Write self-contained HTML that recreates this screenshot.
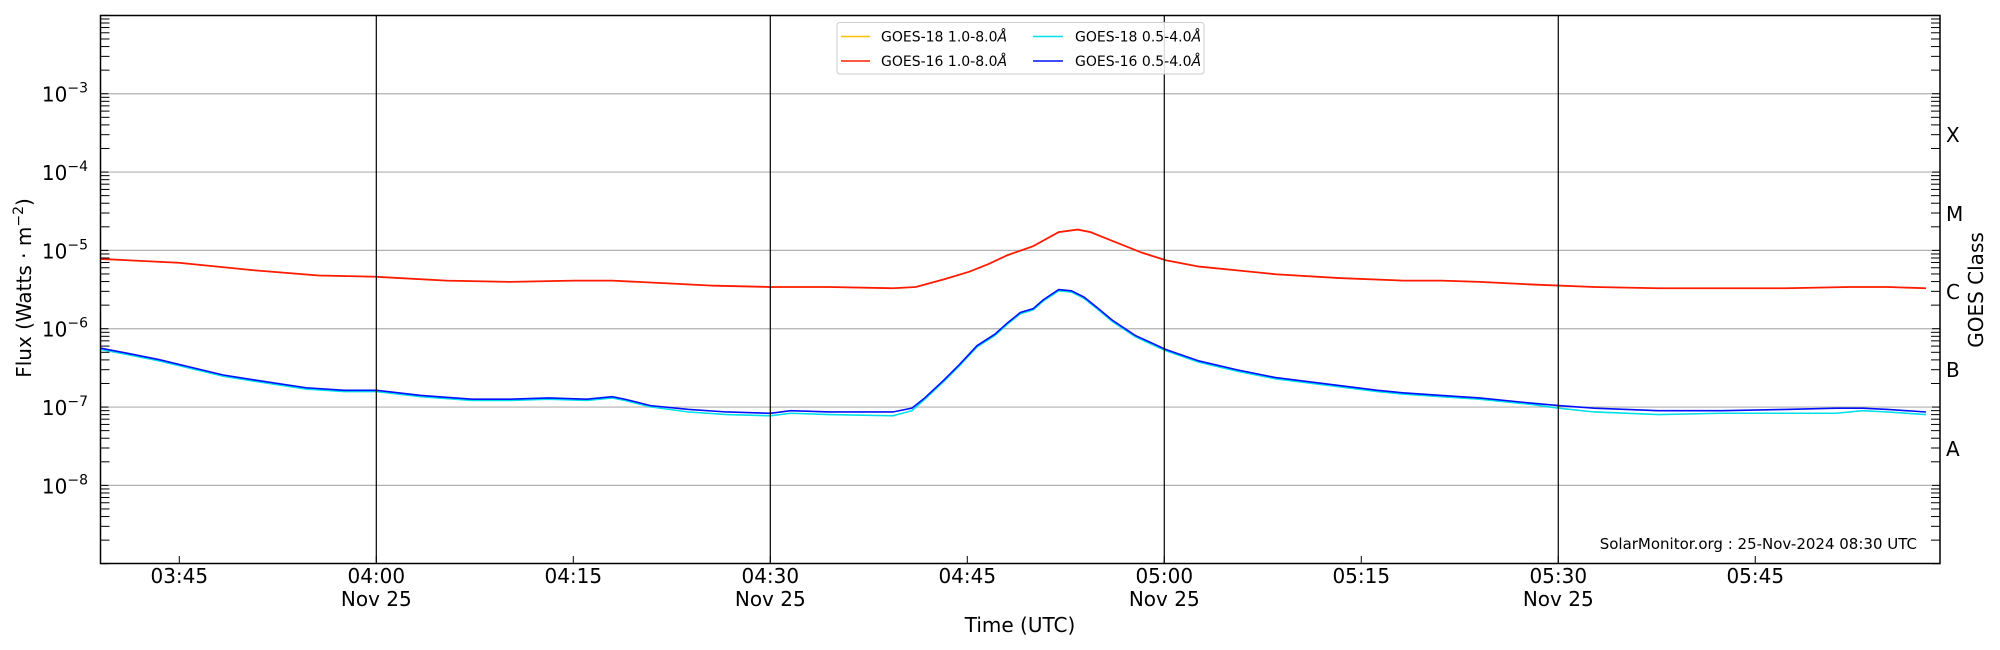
<!DOCTYPE html>
<html><head><meta charset="utf-8"><style>
html,body{margin:0;padding:0;background:#fff;}
svg{display:block;font-family:"DejaVu Sans","Liberation Sans",sans-serif;}
</style></head><body>
<svg id="s" width="2000" height="650" xmlns="http://www.w3.org/2000/svg">
<rect width="2000" height="650" fill="#fff"/>
<g id="grid"></g>
<g id="data" transform="scale(1.2755)">
<polyline fill="none" stroke="#ffc000" stroke-width="1.2" vector-effect="non-scaling-stroke" points="79,203 140,206 200,212 250,216 295,217 350,220 400,221 450,220 480,220 520,222 560,224 604,225 650,225 700,226 718,225 740,219 760,213 775,207 790,200 810,193 830,182 845,180 855,182 870,188 895,198 914,204 940,209 970,212 1000,215 1050,218 1100,220 1130,220 1160,221 1200,223 1250,225 1300,226 1350,226 1400,226 1450,225 1480,225 1510,226"/>
<polyline fill="none" stroke="#ff1a00" stroke-width="1.8" vector-effect="non-scaling-stroke" points="79,203 140,206 200,212 250,216 295,217 350,220 400,221 450,220 480,220 520,222 560,224 604,225 650,225 700,226 718,225 740,219 760,213 775,207 790,200 810,193 830,182 845,180 855,182 870,188 895,198 914,204 940,209 970,212 1000,215 1050,218 1100,220 1130,220 1160,221 1200,223 1250,225 1300,226 1350,226 1400,226 1450,225 1480,225 1510,226"/>
<polyline fill="none" stroke="#00e0e8" stroke-width="1.6" vector-effect="non-scaling-stroke" points="79,274 100,278 125,283 150,289 175,295 200,299 240,305 270,307 295,307 330,311 370,314 400,314 430,313 460,314 480,312 490,314 510,319 540,323 570,325 604,326 620,324 650,325 700,326 715,322 725,313 740,299 752,287 766,272 780,263 790,254 800,246 810,243 818,236 830,228 840,229 850,234 860,242 872,252 890,264 914,275 940,284 970,291 1000,297 1040,302 1080,307 1100,309 1130,311 1160,313 1200,317 1222,320 1250,323 1300,325 1350,324 1400,324 1440,324 1460,322 1480,323 1510,325"/>
<polyline fill="none" stroke="#0010ff" stroke-width="1.6" vector-effect="non-scaling-stroke" points="79,273 100,277 125,282 150,288 175,294 200,298 240,304 270,306 295,306 330,310 370,313 400,313 430,312 460,313 480,311 490,313 510,318 540,321 570,323 604,324 620,322 650,323 700,323 715,320 725,312 740,298 752,286 766,271 780,262 790,253 800,245 810,242 818,235 830,227 840,228 850,233 860,241 872,251 890,263 914,274 940,283 970,290 1000,296 1040,301 1080,306 1100,308 1130,310 1160,312 1200,316 1222,318 1250,320 1300,322 1350,322 1400,321 1440,320 1460,320 1480,321 1510,323"/>
</g>
<g id="ax"></g>
<rect x="100.5" y="15.5" width="1839.5" height="548" fill="none" stroke="#000" stroke-width="1.5"/>
<g font-size="14">
<rect x="837" y="22.5" width="367" height="51.5" rx="3" fill="#fff" fill-opacity="0.85" stroke="#ccc"/>
<line x1="841" y1="36.5" x2="870" y2="36.5" stroke="#ffc000" stroke-width="1.5"/>
<text x="881" y="41.5">GOES-18 1.0-8.0<tspan font-style="italic">Å</tspan></text>
<line x1="841" y1="61" x2="870" y2="61" stroke="#ff2000" stroke-width="1.5"/>
<text x="881" y="66">GOES-16 1.0-8.0<tspan font-style="italic">Å</tspan></text>
<line x1="1033" y1="36.5" x2="1063" y2="36.5" stroke="#00e0e8" stroke-width="1.5"/>
<text x="1075" y="41.5">GOES-18 0.5-4.0<tspan font-style="italic">Å</tspan></text>
<line x1="1033" y1="61" x2="1063" y2="61" stroke="#0010ff" stroke-width="1.5"/>
<text x="1075" y="66">GOES-16 0.5-4.0<tspan font-style="italic">Å</tspan></text>
</g>
<text x="1917" y="549" font-size="15" text-anchor="end">SolarMonitor.org : 25-Nov-2024 08:30 UTC</text>
<g font-size="20">
<text x="1946" y="142">X</text><text x="1946" y="221">M</text><text x="1946" y="299">C</text><text x="1946" y="377">B</text><text x="1946" y="456">A</text>
</g>
<text transform="translate(1983,290) rotate(-90)" font-size="20" text-anchor="middle">GOES Class</text>
<text transform="translate(31,288) rotate(-90)" font-size="20" text-anchor="middle">Flux (Watts · m<tspan dy="-8" font-size="14">−2</tspan><tspan dy="8">)</tspan></text>
<text x="1020" y="632" font-size="20" text-anchor="middle">Time (UTC)</text>
</svg>
<script>
var NS="http://www.w3.org/2000/svg";
function el(p,n,a,t){var e=document.createElementNS(NS,n);for(var k in a)e.setAttribute(k,a[k]);if(t)e.textContent=t;p.appendChild(e);return e;}
var g=document.getElementById('grid'),ax=document.getElementById('ax');
var top0=15.4,dec=78.33,L=100.5,R=1940;
for(var d=-3;d>=-8;d--){var y=top0+(-2-d)*dec;
 el(g,'line',{x1:L,x2:R,y1:y,y2:y,stroke:'#b0b0b0','stroke-width':1.2});
 var t=el(ax,'text',{x:88,y:y+8,'font-size':20,'text-anchor':'end'});
 t.textContent='10';var s=el(t,'tspan',{dy:-9,'font-size':14});s.textContent='−'+(-d);}
for(var d=-2;d>=-9;d--){var y0=top0+(-2-d)*dec;
 el(ax,'line',{x1:L,x2:L+8,y1:y0,y2:y0,stroke:'#000'});el(ax,'line',{x1:R-8,x2:R,y1:y0,y2:y0,stroke:'#000'});
 if(d==-2)continue;
 for(var m=2;m<=9;m++){var y=y0-Math.log10(m)*dec;
  el(ax,'line',{x1:L,x2:L+9,y1:y,y2:y,stroke:'#000'});el(ax,'line',{x1:R-9,x2:R,y1:y,y2:y,stroke:'#000'});}}
var x0=376.3,px=13.133;
var labs=[["03:45",-15,0],["04:00",0,1],["04:15",15,0],["04:30",30,1],["04:45",45,0],["05:00",60,1],["05:15",75,0],["05:30",90,1],["05:45",105,0]];
labs.forEach(function(l){var x=x0+l[1]*px;
 if(l[2])el(ax,'line',{x1:x,x2:x,y1:15.5,y2:563.5,stroke:'#000','stroke-width':1.2});
 el(ax,'line',{x1:x,x2:x,y1:556,y2:563.5,stroke:'#000'});
 el(ax,'text',{x:x,y:583,'font-size':20,'text-anchor':'middle'},l[0]);
 if(l[2])el(ax,'text',{x:x,y:606,'font-size':20,'text-anchor':'middle'},"Nov 25");});
</script>
</body></html>
